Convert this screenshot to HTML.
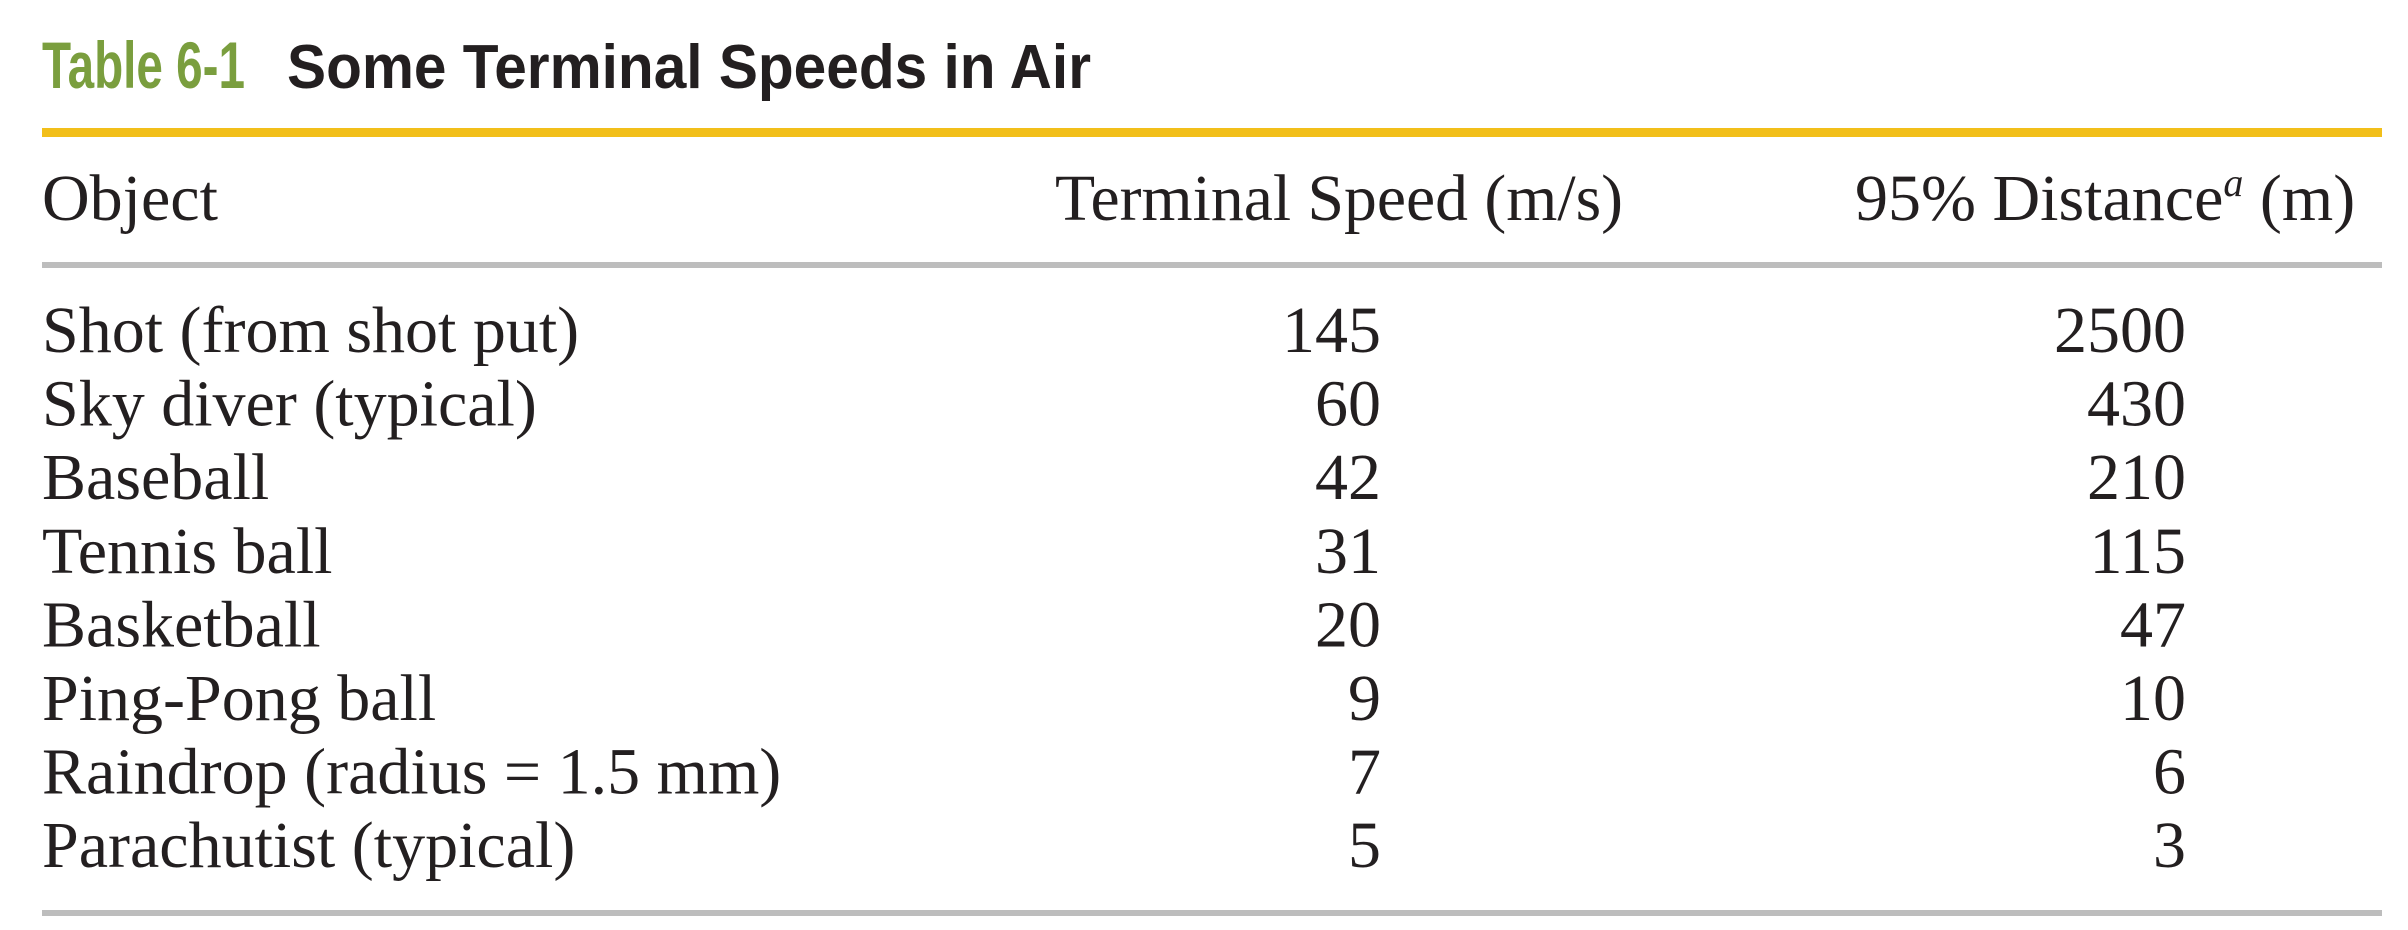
<!DOCTYPE html>
<html><head><meta charset="utf-8"><style>
html,body{margin:0;padding:0;background:#fff;width:2408px;height:930px;overflow:hidden}
svg text{font-family:"Liberation Serif",serif;fill:#231f20}
</style></head><body>
<svg width="2408" height="930" viewBox="0 0 2408 930" xmlns="http://www.w3.org/2000/svg">
<g>
<text x="42" y="88" font-size="66" font-weight="bold" textLength="203" lengthAdjust="spacingAndGlyphs" style="font-family:'Liberation Sans',sans-serif;fill:#7a9e3e">Table 6-1</text>
<text x="287" y="88" font-size="62" font-weight="bold" textLength="804" lengthAdjust="spacingAndGlyphs" style="font-family:'Liberation Sans',sans-serif;fill:#231f20">Some Terminal Speeds in Air</text>
</g>
<rect x="42" y="128" width="2340" height="9" fill="#f2bf1a"/>
<g font-size="66">
<text x="42" y="220">Object</text>
<text x="1055" y="220" textLength="568" lengthAdjust="spacingAndGlyphs">Terminal Speed (m/s)</text>
<text x="1855" y="220">95% Distance<tspan font-style="italic" font-size="40" dy="-24">a</tspan><tspan dy="24"> (m)</tspan></text>
</g>
<rect x="42" y="262" width="2340" height="6" fill="#bdbdbd"/>
<g id="rows"></g>
<rect x="42" y="910" width="2340" height="6" fill="#bdbdbd"/>
</svg>
<script>
const objects = ["Shot (from shot put)","Sky diver (typical)","Baseball","Tennis ball","Basketball","Ping-Pong ball","Raindrop (radius = 1.5 mm)","Parachutist (typical)"];
const speeds = ["145","60","42","31","20","9","7","5"];
const distances = ["2500","430","210","115","47","10","6","3"];
const g = document.getElementById('rows');
const NS = "http://www.w3.org/2000/svg";
function rowY(i){ return 352 + i*73.6; }
objects.forEach((o,i)=>{
  const y = rowY(i);
  const r = document.createElementNS(NS,'g');
  
  
  r.setAttribute('font-size','66');
  const cells = [[o,42,'start'],[speeds[i],1381,'end'],[distances[i],2186,'end']];
  cells.forEach((c,j)=>{
    const t = document.createElementNS(NS,'text');
    t.setAttribute('x',c[1]); t.setAttribute('y',y);
    t.setAttribute('text-anchor',c[2]);
    
    
    t.textContent = c[0];
    r.appendChild(t);
  });
  g.appendChild(r);
});
</script>
</body></html>
